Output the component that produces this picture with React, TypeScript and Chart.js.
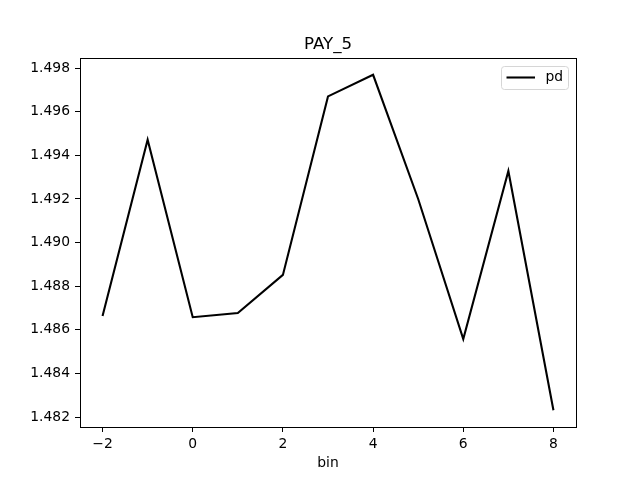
import React, { useEffect, useRef } from "react";
import { Chart, registerables } from "chart.js";

Chart.register(...registerables);

const chartTitle = "PAY_5";
const xLabel = "bin";
const seriesLabel = "pd";
const bins = [-2, -1, 0, 1, 2, 3, 4, 5, 6, 7, 8];
const pd = [1.48664, 1.49471, 1.48658, 1.48677, 1.48852, 1.4967, 1.49769, 1.492, 1.48558, 1.49328, 1.48232];
const xTicks = [-2, 0, 2, 4, 6, 8];
const yTicks = [1.482, 1.484, 1.486, 1.488, 1.49, 1.492, 1.494, 1.496, 1.498];

const FONT = "'DejaVu Sans', sans-serif";

const decorPlugin = {
  id: "decor",
  afterDatasetsDraw(chart: any) {
    const { ctx, chartArea } = chart;
    const { left, right, top, bottom } = chartArea;
    ctx.save();
    // frame
    ctx.strokeStyle = "#000";
    ctx.lineWidth = 1;
    ctx.strokeRect(left + 0.5, top + 0.5, right - left, bottom - top);
    // title
    ctx.fillStyle = "#000";
    ctx.font = `16.67px ${FONT}`;
    ctx.textAlign = "center";
    ctx.textBaseline = "middle";
    ctx.fillText(chartTitle, (left + right) / 2, 45);
    // legend
    const bx = right - 74.5;
    const by = top + 8.5;
    const bw = 67;
    const bh = 23;
    const r = 3;
    ctx.beginPath();
    ctx.moveTo(bx + r, by);
    ctx.lineTo(bx + bw - r, by);
    ctx.arcTo(bx + bw, by, bx + bw, by + r, r);
    ctx.lineTo(bx + bw, by + bh - r);
    ctx.arcTo(bx + bw, by + bh, bx + bw - r, by + bh, r);
    ctx.lineTo(bx + r, by + bh);
    ctx.arcTo(bx, by + bh, bx, by + bh - r, r);
    ctx.lineTo(bx, by + r);
    ctx.arcTo(bx, by, bx + r, by, r);
    ctx.closePath();
    ctx.fillStyle = "rgba(255,255,255,0.8)";
    ctx.fill();
    ctx.strokeStyle = "#d6d6d6";
    ctx.lineWidth = 1;
    ctx.stroke();
    const ly = by + 11;
    ctx.beginPath();
    ctx.moveTo(bx + 5, ly);
    ctx.lineTo(bx + 33.5, ly);
    ctx.strokeStyle = "#000";
    ctx.lineWidth = 2.08;
    ctx.stroke();
    ctx.fillStyle = "#000";
    ctx.font = `13.89px ${FONT}`;
    ctx.textAlign = "left";
    ctx.textBaseline = "middle";
    ctx.fillText(seriesLabel, bx + 44, ly);
    ctx.restore();
  },
};

export default function App() {
  const canvasRef = useRef<HTMLCanvasElement | null>(null);

  useEffect(() => {
    if (!canvasRef.current) return;
    const tickFont = { family: FONT, size: 13.89 };
    const chart = new Chart(canvasRef.current, {
      type: "line",
      data: {
        datasets: [
          {
            label: seriesLabel,
            data: bins.map((b, i) => ({ x: b, y: pd[i] })),
            borderColor: "#000",
            backgroundColor: "#000",
            borderWidth: 2.08,
            pointRadius: 0,
            tension: 0,
            fill: false,
          },
        ],
      },
      options: {
        animation: false,
        responsive: false,
        devicePixelRatio: 1,
        layout: { padding: { left: 0, top: 58, right: 64, bottom: 0 } },
        plugins: {
          legend: { display: false },
          title: { display: false },
          tooltip: { enabled: false },
        },
        scales: {
          x: {
            type: "linear",
            position: "bottom",
            min: -2.5,
            max: 8.5,
            afterFit: (s: any) => {
              s.height = 53;
            },
            afterBuildTicks: (s: any) => {
              s.ticks = xTicks.map((v) => ({ value: v }));
            },
            border: { display: false },
            grid: {
              drawOnChartArea: false,
              drawTicks: true,
              tickLength: 5,
              tickColor: "#000",
              tickWidth: 1,
            },
            ticks: {
              font: tickFont,
              color: "#000",
              padding: 4,
              autoSkip: false,
              maxRotation: 0,
              callback: (v: any) => String(v).replace("-", "\u2212"),
            },
            title: {
              display: true,
              text: xLabel,
              font: { family: FONT, size: 13.89 },
              color: "#000",
              padding: { top: 0, bottom: 8 },
            },
          },
          y: {
            type: "linear",
            position: "left",
            min: 1.48155,
            max: 1.49846,
            afterFit: (s: any) => {
              s.width = 80;
            },
            afterBuildTicks: (s: any) => {
              s.ticks = yTicks.map((v) => ({ value: v }));
            },
            border: { display: false },
            grid: {
              drawOnChartArea: false,
              drawTicks: true,
              tickLength: 5,
              tickColor: "#000",
              tickWidth: 1,
            },
            ticks: {
              font: tickFont,
              color: "#000",
              padding: 5,
              autoSkip: false,
              callback: (v: any) => Number(v).toFixed(3),
            },
          },
        },
      },
      plugins: [decorPlugin],
    });
    return () => chart.destroy();
  }, []);

  return (
    <div style={{ position: "fixed", left: 0, top: 0, width: 640, height: 480, background: "#fff" }}>
      <canvas ref={canvasRef} width={640} height={480} />
    </div>
  );
}
